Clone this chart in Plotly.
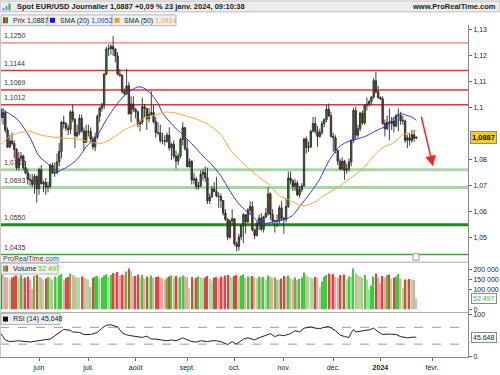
import pandas as pd
import plotly.graph_objects as go

# ---------------- data ----------------
dates = pd.bdate_range("2023-05-09", "2024-01-23")  # daily sessions

opens = [
    1.0990, 1.0963, 1.0982, 1.0914, 1.0849, 1.0873, 1.0863, 1.0840, 1.0770, 1.0805, 1.0815, 1.0770, 1.0750, 1.0725, 1.0722, 1.0705, 1.0736,
    1.0689, 1.0762, 1.0708, 1.0713, 1.0695, 1.0698, 1.0780, 1.0749, 1.0750, 1.0792, 1.0832, 1.0945, 1.0940, 1.0922, 1.0917, 1.0985, 1.0956, 1.0893, 1.0905, 1.0960, 1.0912, 1.0867,
    1.0910, 1.0910, 1.0880, 1.0850, 1.0888, 1.0968, 1.0999, 1.1009, 1.1130, 1.1227, 1.1228, 1.1237, 1.1226, 1.1200, 1.1130, 1.1125, 1.1063, 1.1055, 1.1085, 1.0977, 1.1015,
    1.0995, 1.0985, 1.0938, 1.0945, 1.1005, 1.0997, 1.0958, 1.0975, 1.0982, 1.0947, 1.0905, 1.0904, 1.0874, 1.0873, 1.0872, 1.0895, 1.0846, 1.0860, 1.0815, 1.0795, 1.0815, 1.0878, 1.0924,
    1.0843, 1.0774, 1.0794, 1.0722, 1.0726, 1.0697, 1.0700, 1.0744, 1.0752, 1.0731, 1.0642, 1.0657, 1.0688, 1.0678, 1.0661, 1.0659, 1.0643, 1.0595, 1.0571, 1.0502, 1.0564,
    1.0573, 1.0477, 1.0466, 1.0503, 1.0549, 1.0589, 1.0562, 1.0606, 1.0620, 1.0530, 1.0509, 1.0555, 1.0576, 1.0533, 1.0580, 1.0594, 1.0669, 1.0590, 1.0565, 1.0565, 1.0564, 1.0615,
    1.0575, 1.0570, 1.0620, 1.0730, 1.0720, 1.0698, 1.0710, 1.0665, 1.0685, 1.0700, 1.0880, 1.0848, 1.0850, 1.0910, 1.0940, 1.0910, 1.0890, 1.0905, 1.0940, 1.0955, 1.0995, 1.0970,
    1.0890, 1.0885, 1.0835, 1.0795, 1.0765, 1.0795, 1.0760, 1.0765, 1.0792, 1.0875, 1.0990, 1.0895, 1.0920, 1.0980, 1.0942, 1.1010, 1.1015, 1.1025, 1.1042, 1.1105, 1.1062,
    1.1040, 1.1035, 1.0940, 1.0920, 1.0945, 1.0940, 1.0950, 1.0930, 1.0972, 1.0972, 1.0950, 1.0950, 1.0875, 1.0885, 1.0875, 1.0897, 1.0883,
]
highs = [
    1.1000, 1.1000, 1.0990, 1.0925, 1.0895, 1.0905, 1.0875, 1.0845, 1.0830, 1.0830, 1.0820, 1.0795, 1.0765, 1.0745, 1.0745, 1.0745, 1.0740,
    1.0770, 1.0780, 1.0720, 1.0730, 1.0715, 1.0785, 1.0790, 1.0790, 1.0825, 1.0865, 1.0950, 1.0970, 1.0945, 1.0935, 1.0990, 1.1012, 1.0960, 1.0935, 1.0975, 1.0975, 1.0925, 1.0935,
    1.0935, 1.0925, 1.0890, 1.0905, 1.0975, 1.1005, 1.1020, 1.1135, 1.1235, 1.1245, 1.1245, 1.1276, 1.1230, 1.1215, 1.1150, 1.1130, 1.1075, 1.1150, 1.1100, 1.1045, 1.1045,
    1.1000, 1.0990, 1.0955, 1.1040, 1.1015, 1.1000, 1.1000, 1.1064, 1.1010, 1.0965, 1.0945, 1.0935, 1.0905, 1.0895, 1.0905, 1.0925, 1.0865, 1.0875, 1.0835, 1.0825, 1.0885, 1.0945, 1.0925,
    1.0880, 1.0805, 1.0800, 1.0750, 1.0735, 1.0715, 1.0760, 1.0765, 1.0775, 1.0770, 1.0670, 1.0700, 1.0715, 1.0735, 1.0675, 1.0670, 1.0645, 1.0610, 1.0575, 1.0570, 1.0610,
    1.0575, 1.0485, 1.0515, 1.0550, 1.0595, 1.0590, 1.0615, 1.0640, 1.0640, 1.0535, 1.0565, 1.0590, 1.0595, 1.0585, 1.0615, 1.0695, 1.0675, 1.0610, 1.0570, 1.0590, 1.0625, 1.0640,
    1.0580, 1.0650, 1.0755, 1.0755, 1.0725, 1.0725, 1.0720, 1.0700, 1.0710, 1.0885, 1.0890, 1.0870, 1.0915, 1.0965, 1.0965, 1.0930, 1.0920, 1.0950, 1.0960, 1.1010, 1.1017, 1.0985,
    1.0905, 1.0895, 1.0840, 1.0805, 1.0810, 1.0800, 1.0785, 1.0805, 1.0880, 1.1000, 1.1005, 1.0935, 1.0985, 1.0990, 1.1015, 1.1040, 1.1030, 1.1045, 1.1115, 1.1139, 1.1085,
    1.1045, 1.1045, 1.0955, 1.0970, 1.0998, 1.0965, 1.0965, 1.0975, 1.0998, 1.0985, 1.0970, 1.0955, 1.0895, 1.0905, 1.0915, 1.0915, 1.0890,
]
lows = [
    1.0945, 1.0935, 1.0905, 1.0845, 1.0845, 1.0855, 1.0805, 1.0760, 1.0760, 1.0795, 1.0760, 1.0745, 1.0705, 1.0700, 1.0695, 1.0670, 1.0635,
    1.0665, 1.0705, 1.0675, 1.0665, 1.0675, 1.0690, 1.0745, 1.0735, 1.0745, 1.0775, 1.0805, 1.0920, 1.0910, 1.0895, 1.0900, 1.0945, 1.0845, 1.0885, 1.0895, 1.0905, 1.0835, 1.0865,
    1.0890, 1.0865, 1.0840, 1.0833, 1.0880, 1.0945, 1.0985, 1.0995, 1.1125, 1.1200, 1.1205, 1.1200, 1.1175, 1.1125, 1.1120, 1.1055, 1.1045, 1.1050, 1.0975, 1.0945, 1.0985,
    1.0960, 1.0925, 1.0910, 1.0935, 1.0965, 1.0915, 1.0945, 1.0970, 1.0940, 1.0885, 1.0895, 1.0865, 1.0860, 1.0855, 1.0865, 1.0835, 1.0800, 1.0805, 1.0766, 1.0780, 1.0805, 1.0855, 1.0835,
    1.0770, 1.0770, 1.0705, 1.0705, 1.0685, 1.0685, 1.0695, 1.0720, 1.0715, 1.0630, 1.0630, 1.0655, 1.0675, 1.0655, 1.0615, 1.0615, 1.0585, 1.0565, 1.0490, 1.0495, 1.0550,
    1.0470, 1.0448, 1.0450, 1.0490, 1.0480, 1.0515, 1.0555, 1.0590, 1.0525, 1.0495, 1.0505, 1.0530, 1.0525, 1.0520, 1.0575, 1.0585, 1.0570, 1.0555, 1.0520, 1.0540, 1.0555, 1.0565,
    1.0515, 1.0560, 1.0615, 1.0705, 1.0680, 1.0680, 1.0660, 1.0655, 1.0675, 1.0695, 1.0825, 1.0830, 1.0845, 1.0905, 1.0900, 1.0850, 1.0885, 1.0895, 1.0925, 1.0945, 1.0965, 1.0885,
    1.0830, 1.0825, 1.0780, 1.0760, 1.0760, 1.0723, 1.0745, 1.0755, 1.0775, 1.0865, 1.0880, 1.0885, 1.0910, 1.0935, 1.0935, 1.0990, 1.1005, 1.1010, 1.1035, 1.1055, 1.1035,
    1.1030, 1.0935, 1.0890, 1.0915, 1.0875, 1.0915, 1.0905, 1.0925, 1.0910, 1.0935, 1.0935, 1.0865, 1.0845, 1.0855, 1.0865, 1.0870, 1.0880,
]
closes = [
    1.0963, 1.0982, 1.0914, 1.0849, 1.0873, 1.0863, 1.0840, 1.0770, 1.0805, 1.0815, 1.0770, 1.0750, 1.0725, 1.0722, 1.0705, 1.0736, 1.0689,
    1.0762, 1.0708, 1.0713, 1.0695, 1.0698, 1.0780, 1.0749, 1.0750, 1.0792, 1.0832, 1.0945, 1.0940, 1.0922, 1.0917, 1.0985, 1.0956, 1.0893, 1.0905, 1.0960, 1.0912, 1.0867, 1.0910,
    1.0910, 1.0880, 1.0850, 1.0888, 1.0968, 1.0999, 1.1009, 1.1130, 1.1227, 1.1228, 1.1237, 1.1226, 1.1200, 1.1130, 1.1125, 1.1063, 1.1055, 1.1085, 1.0977, 1.1015, 1.0995,
    1.0985, 1.0938, 1.0945, 1.1005, 1.0997, 1.0958, 1.0975, 1.0982, 1.0947, 1.0905, 1.0904, 1.0874, 1.0873, 1.0872, 1.0895, 1.0846, 1.0860, 1.0815, 1.0795, 1.0815, 1.0878, 1.0924, 1.0843,
    1.0774, 1.0794, 1.0722, 1.0726, 1.0697, 1.0700, 1.0744, 1.0752, 1.0731, 1.0642, 1.0657, 1.0688, 1.0678, 1.0661, 1.0659, 1.0643, 1.0595, 1.0571, 1.0502, 1.0564, 1.0573,
    1.0477, 1.0466, 1.0503, 1.0549, 1.0589, 1.0562, 1.0606, 1.0620, 1.0530, 1.0509, 1.0555, 1.0576, 1.0533, 1.0580, 1.0594, 1.0669, 1.0590, 1.0565, 1.0565, 1.0564, 1.0615, 1.0575,
    1.0570, 1.0620, 1.0730, 1.0720, 1.0698, 1.0710, 1.0665, 1.0685, 1.0700, 1.0880, 1.0848, 1.0850, 1.0910, 1.0940, 1.0910, 1.0890, 1.0905, 1.0940, 1.0955, 1.0995, 1.0970, 1.0890,
    1.0885, 1.0835, 1.0795, 1.0765, 1.0795, 1.0760, 1.0765, 1.0792, 1.0875, 1.0990, 1.0895, 1.0920, 1.0980, 1.0942, 1.1010, 1.1015, 1.1025, 1.1042, 1.1105, 1.1062, 1.1040,
    1.1035, 1.0940, 1.0920, 1.0945, 1.0940, 1.0950, 1.0930, 1.0972, 1.0972, 1.0950, 1.0950, 1.0875, 1.0885, 1.0875, 1.0897, 1.0883, 1.0887,
]
volumes = [
    188000, 175000, 162000, 158000, 150000, 160000, 165000, 170000, 160000, 172000, 155000, 160000, 165000, 150000, 102000, 168000, 172000,
    165000, 160000, 150000, 155000, 162000, 158000, 150000, 165000, 160000, 170000, 178000, 145000, 158000, 162000, 180000, 172000, 165000, 160000, 158000, 165000, 160000, 155000,
    150000, 112000, 158000, 165000, 168000, 155000, 160000, 170000, 175000, 165000, 172000, 183000, 178000, 188000, 170000, 175000, 172000, 190000, 205000, 192000, 165000,
    168000, 175000, 160000, 172000, 155000, 165000, 160000, 170000, 158000, 162000, 165000, 160000, 155000, 150000, 158000, 165000, 170000, 160000, 168000, 155000, 162000, 170000, 165000,
    160000, 106000, 162000, 150000, 158000, 165000, 160000, 155000, 160000, 168000, 152000, 145000, 160000, 162000, 155000, 165000, 160000, 170000, 172000, 165000, 160000,
    168000, 172000, 165000, 170000, 175000, 160000, 165000, 162000, 168000, 160000, 155000, 165000, 160000, 162000, 150000, 170000, 165000, 158000, 160000, 150000, 148000, 155000,
    168000, 162000, 170000, 158000, 150000, 160000, 148000, 152000, 160000, 185000, 170000, 165000, 160000, 155000, 162000, 158000, 112000, 140000, 165000, 172000, 180000, 175000,
    178000, 165000, 160000, 172000, 168000, 175000, 150000, 165000, 162000, 205000, 180000, 170000, 165000, 160000, 172000, 150000, 100000, 120000, 165000, 180000, 160000,
    130000, 168000, 160000, 172000, 175000, 155000, 160000, 165000, 178000, 155000, 108000, 150000, 148000, 152000, 150000, 148000, 52497,
]

sma20_dates = ["2023-05-09", "2023-05-15", "2023-05-19", "2023-05-26", "2023-06-01", "2023-06-08", "2023-06-13",
               "2023-06-15", "2023-06-20", "2023-06-26", "2023-06-30", "2023-07-07", "2023-07-13", "2023-07-20",
               "2023-07-26", "2023-08-02", "2023-08-04", "2023-08-09", "2023-08-15", "2023-08-17", "2023-08-24",
               "2023-08-30", "2023-09-06", "2023-09-12", "2023-09-15", "2023-09-22", "2023-09-28", "2023-10-04",
               "2023-10-11", "2023-10-17", "2023-10-20", "2023-10-25", "2023-11-01", "2023-11-07", "2023-11-10",
               "2023-11-17", "2023-11-23", "2023-11-29", "2023-12-06", "2023-12-12", "2023-12-18", "2023-12-22",
               "2023-12-28", "2024-01-04", "2024-01-09", "2024-01-12", "2024-01-16", "2024-01-19", "2024-01-23"]
sma20_vals = [1.0995, 1.0977, 1.0950, 1.0885, 1.0815, 1.0777, 1.0754,
              1.0761, 1.0775, 1.0802, 1.0850, 1.0895, 1.0955, 1.1018,
              1.1056, 1.1081, 1.1079, 1.1062, 1.1018, 1.0980, 1.0929,
              1.0897, 1.0853, 1.0815, 1.0790, 1.0738, 1.0680, 1.0630,
              1.0590, 1.0561, 1.0555, 1.0561, 1.0570, 1.0586, 1.0620,
              1.0675, 1.0726, 1.0795, 1.0853, 1.0872, 1.0881, 1.0893,
              1.0912, 1.0932, 1.0962, 1.0978, 1.0973, 1.0965, 1.0952]

sma50_dates = ["2023-05-09", "2023-05-15", "2023-05-19", "2023-05-26", "2023-06-01", "2023-06-08", "2023-06-14",
               "2023-06-21", "2023-06-27", "2023-07-04", "2023-07-10", "2023-07-12", "2023-07-19", "2023-07-25",
               "2023-08-01", "2023-08-07", "2023-08-14", "2023-08-18", "2023-08-25", "2023-08-31", "2023-09-07",
               "2023-09-13", "2023-09-15", "2023-09-22", "2023-09-28", "2023-10-04", "2023-10-11", "2023-10-17",
               "2023-10-24", "2023-10-30", "2023-11-06", "2023-11-10", "2023-11-15", "2023-11-22", "2023-11-24",
               "2023-12-05", "2023-12-12", "2023-12-20", "2023-12-27", "2024-01-02", "2024-01-09", "2024-01-15",
               "2024-01-22", "2024-01-23"]
sma50_vals = [1.0859, 1.0891, 1.0904, 1.0910, 1.0897, 1.0889, 1.0885,
              1.0882, 1.0878, 1.0868, 1.0863, 1.0866, 1.0891, 1.0916,
              1.0935, 1.0961, 1.0973, 1.0984, 1.0980, 1.0970, 1.0957,
              1.0942, 1.0932, 1.0897, 1.0840, 1.0802, 1.0762, 1.0732,
              1.0700, 1.0662, 1.0643, 1.0625, 1.0624, 1.0643, 1.0658,
              1.0694, 1.0726, 1.0764, 1.0815, 1.0847, 1.0866, 1.0897,
              1.0906, 1.0914]

rsi_dates = ["2023-05-09", "2023-05-11", "2023-05-15", "2023-05-19", "2023-05-26", "2023-05-31", "2023-06-05",
             "2023-06-08", "2023-06-13", "2023-06-16", "2023-06-21", "2023-06-22", "2023-06-27", "2023-06-29",
             "2023-07-04", "2023-07-07", "2023-07-11", "2023-07-13", "2023-07-17", "2023-07-20", "2023-07-24",
             "2023-07-26", "2023-07-28", "2023-08-01", "2023-08-04", "2023-08-08", "2023-08-10", "2023-08-14",
             "2023-08-17", "2023-08-21", "2023-08-23", "2023-08-25", "2023-08-30", "2023-09-01", "2023-09-05",
             "2023-09-07", "2023-09-11", "2023-09-14", "2023-09-18", "2023-09-20", "2023-09-22", "2023-09-27",
             "2023-09-29", "2023-10-03", "2023-10-06", "2023-10-10", "2023-10-13", "2023-10-17", "2023-10-20",
             "2023-10-24", "2023-10-26", "2023-10-30", "2023-11-01", "2023-11-06", "2023-11-08", "2023-11-10",
             "2023-11-14", "2023-11-17", "2023-11-21", "2023-11-23", "2023-11-27", "2023-11-29", "2023-12-04",
             "2023-12-06", "2023-12-08", "2023-12-12", "2023-12-13", "2023-12-14", "2023-12-15", "2023-12-20",
             "2023-12-25", "2023-12-27", "2023-12-29", "2024-01-02", "2024-01-05", "2024-01-10", "2024-01-12",
             "2024-01-17", "2024-01-22", "2024-01-23"]
rsi_vals = [55, 40, 36, 38, 35, 38, 40,
            42, 53, 65, 63, 59, 58, 53,
            53, 58, 68, 75, 76, 71, 57,
            52, 50, 48, 46, 49, 42, 42,
            40, 38, 40, 38, 45, 40, 36,
            35, 38, 36, 38, 38, 36, 29,
            36, 30, 42, 45, 40, 45, 50,
            55, 48, 52, 50, 55, 62, 59,
            68, 71, 68, 67, 70, 72, 62,
            52, 48, 46, 57, 65, 59, 62,
            64, 68, 59, 53, 54, 53, 48,
            45, 47, 45.648]

level_vals = [1.1250, 1.1144, 1.1069, 1.1012, 1.0762, 1.0693, 1.0550, 1.0435]
level_text = ["1,1250", "1,1144", "1,1069", "1,1012", "1,0762", "1,0693", "1,0550", "1,0435"]
level_colors = ["#ff7070", "#ff2a2a", "#ff2a2a", "#ff2a2a", "#a6d8a6", "#a6d8a6", "#1c8c1c", "#34a834"]
level_widths = [1.2, 1.5, 1.5, 1.5, 3, 3, 3, 1.5]

price_ticks = [1.05, 1.06, 1.07, 1.08, 1.10, 1.11, 1.12, 1.13]
price_tick_text = ["1,05", "1,06", "1,07", "1,08", "1,1", "1,11", "1,12", "1,13"]
vol_ticks = [0, 100000, 150000, 200000]
vol_tick_text = ["0", "100 000", "150 000", "200 000"]
month_ticks = ["2023-06-01", "2023-07-03", "2023-08-01", "2023-09-01", "2023-10-02",
               "2023-11-01", "2023-12-01", "2024-01-01", "2024-02-01"]
month_text = ["juin", "juil.", "août", "sept.", "oct.", "nov.", "déc.", "<b>2024</b>", "févr."]

assert len(dates) == len(opens) == len(highs) == len(lows) == len(closes) == len(volumes)

# ---------------- layout helpers ----------------
W, H = 500, 375
FONT = "Liberation Sans, Arial, sans-serif"
XR = 468 / W  # right edge of the plotting area


def px(x):
    return x / W


def py(y):
    return 1 - y / H


# volume colours: green up / red down, lighter when volume fell
vol_colors = []
for i in range(len(closes)):
    up = closes[i] >= opens[i]
    lighter = i > 0 and volumes[i] < volumes[i - 1]
    if up:
        vol_colors.append("#9be39b" if lighter else "#3ccc3c")
    else:
        vol_colors.append("#f0a3a3" if lighter else "#e04444")

fig = go.Figure()

fig.add_trace(go.Candlestick(
    x=dates, open=opens, high=highs, low=lows, close=closes,
    increasing=dict(fillcolor="#1f9a1f", line=dict(color="#2a2a2a", width=0.9)),
    decreasing=dict(fillcolor="#b01c1c", line=dict(color="#2a2a2a", width=0.9)),
    whiskerwidth=0, showlegend=False, hoverinfo="skip", xaxis="x", yaxis="y"))

fig.add_trace(go.Scatter(x=sma20_dates, y=sma20_vals, mode="lines",
                         line=dict(color="#3535ff", width=1, shape="spline", smoothing=0.7),
                         showlegend=False, hoverinfo="skip", xaxis="x", yaxis="y"))
fig.add_trace(go.Scatter(x=sma50_dates, y=sma50_vals, mode="lines",
                         line=dict(color="#ffa535", width=1, shape="spline", smoothing=0.7),
                         showlegend=False, hoverinfo="skip", xaxis="x", yaxis="y"))

fig.add_trace(go.Bar(x=dates, y=volumes, marker=dict(color=vol_colors, line=dict(width=0)),
                     width=0.6 * 86400000, showlegend=False, hoverinfo="skip",
                     xaxis="x", yaxis="y2"))

fig.add_trace(go.Scatter(x=rsi_dates, y=rsi_vals, mode="lines",
                         line=dict(color="#222222", width=1),
                         showlegend=False, hoverinfo="skip", xaxis="x", yaxis="y3"))

shapes = []
annotations = []

# support / resistance lines with their labels
for v, t, c, w in zip(level_vals, level_text, level_colors, level_widths):
    shapes.append(dict(type="line", xref="paper", yref="y", x0=0, x1=XR, y0=v, y1=v,
                       line=dict(color=c, width=w), layer="below"))
    annotations.append(dict(xref="paper", yref="y", x=px(2), y=v, yshift=2,
                            xanchor="left", yanchor="bottom", text=t, showarrow=False,
                            font=dict(family=FONT, size=7, color="#333333")))

# RSI 70 / 30 dashed
for v in (70, 30):
    shapes.append(dict(type="line", xref="paper", yref="y3", x0=0, x1=XR, y0=v, y1=v,
                       line=dict(color="#9a9a9a", width=1, dash="dash"), layer="below"))

# header bar
shapes.append(dict(type="rect", xref="paper", yref="paper", x0=0, x1=1, y0=py(11), y1=py(0),
                   fillcolor="#ececec", line=dict(color="#bdbdbd", width=1), layer="below"))
# tiny header icon
for (a, b, top, col) in [(2.5, 4.5, 7, "#55a0e0"), (5.5, 7.5, 5, "#55a0e0"), (8.5, 10.5, 2.5, "#3cb03c")]:
    shapes.append(dict(type="rect", xref="paper", yref="paper", x0=px(a), x1=px(b),
                       y0=py(9.5), y1=py(top), fillcolor=col, line=dict(width=0)))

annotations.append(dict(xref="paper", yref="paper", x=px(15), y=py(5.5), xanchor="left",
                        yanchor="middle", showarrow=False,
                        text="<b>Spot EUR/USD Journalier 1,0887 +0,09 % 23 janv. 2024, 09:10:38</b>",
                        font=dict(family=FONT, size=7.5, color="#222222")))
annotations.append(dict(xref="paper", yref="paper", x=px(498), y=py(5.5), xanchor="right",
                        yanchor="middle", showarrow=False, text="<b>www.ProRealTime.com</b>",
                        font=dict(family=FONT, size=7.5, color="#222222")))


def legend_box(x0, x1, y0, y1):
    shapes.append(dict(type="rect", xref="paper", yref="paper", x0=px(x0), x1=px(x1),
                       y0=py(y1), y1=py(y0), fillcolor="#f0f0f0",
                       line=dict(color="#b5b5b5", width=1)))


def icon(x0, x1, y0, y1, col):
    shapes.append(dict(type="rect", xref="paper", yref="paper", x0=px(x0), x1=px(x1),
                       y0=py(y1), y1=py(y0), fillcolor=col, line=dict(width=0)))


def label(x, y, text, size=7, color="#222222"):
    annotations.append(dict(xref="paper", yref="paper", x=px(x), y=py(y), xanchor="left",
                            yanchor="middle", showarrow=False, text=text,
                            font=dict(family=FONT, size=size, color=color)))


# legend row of the price panel
legend_box(1, 48, 14, 25)
icon(3, 5.5, 16.5, 22.5, "#d42020")
icon(5.5, 8, 16.5, 22.5, "#1f9a1f")
label(10.5, 19.8, "Prix 1,0887")
legend_box(48, 112, 14, 25)
icon(50, 55, 17, 22, "#1010ff")
label(57.5, 19.8, "SMA (20) <span style='color:#3535ff'>1,0952</span>")
legend_box(112, 176, 14, 25)
icon(114.5, 119.5, 17, 22, "#ff9a1a")
label(122, 19.8, "SMA (50) <span style='color:#ff9a1a'>1,0914</span>")

# watermark-like text at the bottom of the price panel
label(1, 260, "ProRealTime.com", size=7, color="#333333")
shapes.append(dict(type="rect", xref="paper", yref="paper", x0=px(413), x1=px(419),
                   y0=py(262), y1=py(255.5), fillcolor="white",
                   line=dict(color="#999999", width=1)))

# panel separators
for yy in (264, 315):
    shapes.append(dict(type="line", xref="paper", yref="paper", x0=0, x1=XR,
                       y0=py(yy), y1=py(yy), line=dict(color="#a8a8a8", width=1)))
shapes.append(dict(type="line", xref="paper", yref="paper", x0=px(0.5), x1=px(0.5),
                   y0=py(360), y1=py(24), line=dict(color="#c8c8c8", width=1)))

# volume legend
legend_box(1, 58, 265, 276)
icon(3, 5.5, 267.5, 273.5, "#3ccc3c")
icon(5.5, 8, 267.5, 273.5, "#e04444")
label(10.5, 270.8, "Volume <span style='color:#3ccc3c'>52 497</span>")

# RSI legend
legend_box(1, 60, 316, 327)
icon(3, 8, 319, 324, "#111111")
label(10.5, 321.8, "RSI (14) 45,648")

# last-value boxes on the right axes
annotations.append(dict(xref="paper", yref="y", x=px(470), y=closes[-1], xanchor="left",
                        yanchor="middle", showarrow=False, text="<b>1,0887</b>",
                        bgcolor="#ffcc1a", bordercolor="#8a8a8a", borderwidth=1, borderpad=1,
                        font=dict(family=FONT, size=7.5, color="#111111")))
annotations.append(dict(xref="paper", yref="y2", x=px(471), y=volumes[-1], xanchor="left",
                        yanchor="middle", showarrow=False, text="52 497",
                        bgcolor="white", bordercolor="#8a8a8a", borderwidth=1, borderpad=1,
                        font=dict(family=FONT, size=7, color="#3cb83c")))
annotations.append(dict(xref="paper", yref="y3", x=px(471), y=rsi_vals[-1], xanchor="left",
                        yanchor="middle", showarrow=False, text="45,648",
                        bgcolor="white", bordercolor="#8a8a8a", borderwidth=1, borderpad=1,
                        font=dict(family=FONT, size=7, color="#222222")))

# red forecast arrow
annotations.append(dict(xref="paper", yref="paper", x=px(433), y=py(167), ax=-12, ay=-51,
                        axref="pixel", ayref="pixel", text="", showarrow=True,
                        arrowhead=2, arrowsize=1.4, arrowwidth=1.5, arrowcolor="#ff2020"))

axis_font = dict(family=FONT, size=7, color="#222222")

fig.update_layout(
    width=W, height=H,
    margin=dict(l=0, r=0, t=0, b=0),
    paper_bgcolor="white", plot_bgcolor="white",
    showlegend=False,
    boxgap=0.12,
    xaxis=dict(domain=[0, XR], anchor="y3", type="date",
               range=["2023-05-08 15:16", "2024-02-23 00:00"],
               rangebreaks=[dict(bounds=["sat", "mon"])],
               tickvals=month_ticks, ticktext=month_text, tickfont=axis_font,
               ticks="outside", ticklen=3, tickcolor="#666666",
               showline=True, linecolor="#8a8a8a", linewidth=1,
               showgrid=False, zeroline=False, rangeslider=dict(visible=False)),
    yaxis=dict(domain=[py(264), py(24)], range=[1.04059, 1.13202], side="right", anchor="x",
               tickvals=price_ticks, ticktext=price_tick_text, tickfont=axis_font,
               ticks="outside", ticklen=3, tickcolor="#666666",
               showline=True, linecolor="#8a8a8a", showgrid=False, zeroline=False),
    yaxis2=dict(domain=[py(315), py(264)], range=[-17000, 237000], side="right", anchor="x",
                tickvals=vol_ticks, ticktext=vol_tick_text, tickfont=axis_font,
                ticks="outside", ticklen=3, tickcolor="#666666",
                showline=True, linecolor="#8a8a8a", showgrid=False, zeroline=False),
    yaxis3=dict(domain=[py(360), py(315)], range=[-1, 105], side="right", anchor="x",
                tickvals=[0, 100], ticktext=["0", "100"], tickfont=axis_font,
                ticks="outside", ticklen=3, tickcolor="#666666",
                showline=True, linecolor="#8a8a8a", showgrid=False, zeroline=False),
    shapes=shapes,
    annotations=annotations,
)

# the page's default 8px body margin would push the 500x375 figure off the window
fig.write_html("out.html", config={"displayModeBar": False},
               post_script="document.body.style.margin='0';document.body.style.overflow='hidden';")
